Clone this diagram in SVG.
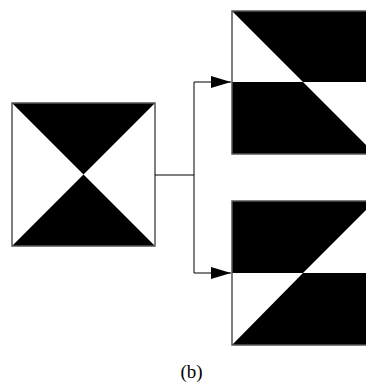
<svg xmlns="http://www.w3.org/2000/svg" width="366" height="383" viewBox="0 0 366 383">
<style>
.blk{fill:#000;stroke:none}
.frame{fill:none;stroke:#555;stroke-width:1.5}
.conn{fill:none;stroke:#000;stroke-width:1}
.lbl{font-family:"Liberation Serif",serif;font-size:19px;fill:#000}
</style>
<defs>
<marker id="ah2" markerWidth="20" markerHeight="12" refX="20" refY="6" orient="auto" markerUnits="userSpaceOnUse">
<path d="M0,0 L20,6 L0,12 Z" fill="#000"/>
</marker>
</defs>
<rect width="366" height="383" fill="#fff"/>
<g id="source">
<rect x="12" y="103" width="143" height="143" fill="#fff"/>
<path class="blk" d="M12,103 L155,103 L83.5,174.5 Z"/>
<path class="blk" d="M12,246 L155,246 L83.5,174.5 Z"/>
<rect class="frame" x="12" y="103" width="143" height="143"/>
</g>
<g id="result-top">
<rect x="232" y="11" width="140" height="143" fill="#fff"/>
<path class="blk" d="M232,11 L372,11 L372,82 L303,82 Z"/>
<path class="blk" d="M232,82 L303,82 L375,154 L232,154 Z"/>
<path class="frame" d="M370,11 L232,11 L232,154 L370,154"/>
</g>
<g id="result-bottom">
<rect x="232" y="201" width="140" height="144" fill="#fff"/>
<path class="blk" d="M232,201 L375,201 L303,273 L232,273 Z"/>
<path class="blk" d="M303,273 L372,273 L372,345 L232,345 Z"/>
<path class="frame" d="M370,201 L232,201 L232,345 L370,345"/>
</g>
<g id="connectors">
<path class="conn" d="M155,175 L194,175"/>
<path class="conn" d="M194,175 L194,82 L231,82" marker-end="url(#ah2)"/>
<path class="conn" d="M194,175 L194,273 L231,273" marker-end="url(#ah2)"/>
</g>
<g id="caption">
<text class="lbl" x="191.5" y="378" text-anchor="middle">(b)</text>
</g>
</svg>
